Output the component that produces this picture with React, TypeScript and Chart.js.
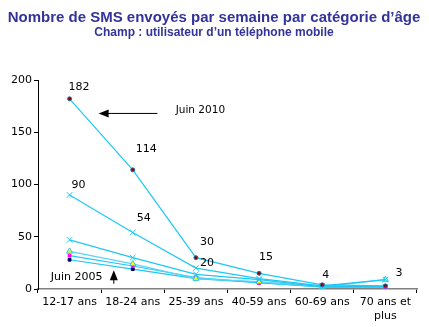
import React, { useEffect, useRef } from "react";
import { Chart, registerables } from "chart.js";

Chart.register(...registerables);

const categories: (string | string[])[] = ["12-17 ans", "18-24 ans", "25-39 ans", "40-59 ans", "60-69 ans", ["70 ans et", "plus"]];
const yTicks = [0, 50, 100, 150, 200];

const sJuin2010 = [182, 114, 30, 15, 4, 3];
const sB = [90, 54, 20, 10, 3, 9];
const sC = [47, 30, 14, 9, 2, 2];
const sD = [36, 24, 10, 7, 2, 9];
const sE = [32, 22, 11, 6, 2, 2];
const sJuin2005 = [28, 19, 10, 6, 2, 2];

const labelsJuin2010 = ["182", "114", "30", "15", "4", "3"];
const labelsB = ["90", "54", "20", "", "", ""];

const title = "Nombre de SMS envoyés par semaine par catégorie d’âge";
const subtitle = "Champ : utilisateur d’un téléphone mobile";

export default function App() {
  const ref = useRef<HTMLCanvasElement | null>(null);
  useEffect(() => {
    if (!ref.current) return;
    const labelOffsets2010 = [[-1, -12], [3, -21], [4, -16], [0, -16], [0, -10], [10, -13]];
    const labelOffsetsB = [[2, -10], [4, -14], [4, -5]];
    const overlay = {
      id: "overlay",
      afterDatasetsDraw(chart: any) {
        const ctx = chart.ctx;
        const xs = chart.scales.x;
        const ys = chart.scales.y;
        ctx.save();
        // titles
        ctx.fillStyle = "#333399";
        ctx.textAlign = "center";
        ctx.textBaseline = "middle";
        ctx.font = "bold 15px 'Liberation Sans', Arial, sans-serif";
        ctx.fillText(title, 214, 18);
        ctx.font = "bold 12px 'Liberation Sans', Arial, sans-serif";
        ctx.fillText(subtitle, 214, 33);
        // data labels
        ctx.fillStyle = "#000";
        ctx.font = "11px 'DejaVu Sans', Verdana, sans-serif";
        ctx.textAlign = "left";
        const m0 = chart.getDatasetMeta(0).data;
        labelsJuin2010.forEach((t, i) => {
          if (!t) return;
          const p = m0[i];
          const o = labelOffsets2010[i];
          ctx.fillText(t, p.x + o[0], p.y + o[1]);
        });
        const m1 = chart.getDatasetMeta(1).data;
        labelsB.forEach((t, i) => {
          if (!t) return;
          const p = m1[i];
          const o = labelOffsetsB[i];
          ctx.fillText(t, p.x + o[0], p.y + o[1]);
        });
        // Juin 2010 arrow
        const ay = ys.getPixelForValue(168);
        const ax1 = xs.getPixelForValue(0.46);
        const ax2 = xs.getPixelForValue(1.39);
        ctx.strokeStyle = "#000";
        ctx.lineWidth = 1;
        ctx.beginPath();
        ctx.moveTo(ax2, ay);
        ctx.lineTo(ax1 + 6, ay);
        ctx.stroke();
        ctx.beginPath();
        ctx.moveTo(ax1, ay);
        ctx.lineTo(ax1 + 10, ay - 4);
        ctx.lineTo(ax1 + 10, ay + 4);
        ctx.closePath();
        ctx.fill();
        ctx.font = "10.5px 'DejaVu Sans', Verdana, sans-serif";
        ctx.textAlign = "left";
        ctx.fillText("Juin 2010", xs.getPixelForValue(1.68), ys.getPixelForValue(171));
        // Juin 2005 arrow
        const bx = xs.getPixelForValue(0.70);
        const by1 = ys.getPixelForValue(5);
        const by2 = ys.getPixelForValue(18);
        ctx.beginPath();
        ctx.moveTo(bx, by1);
        ctx.lineTo(bx, by2 + 6);
        ctx.stroke();
        ctx.beginPath();
        ctx.moveTo(bx, by2);
        ctx.lineTo(bx - 4, by2 + 10);
        ctx.lineTo(bx + 4, by2 + 10);
        ctx.closePath();
        ctx.fill();
        ctx.font = "11px 'DejaVu Sans', Verdana, sans-serif";
        ctx.textAlign = "right";
        ctx.fillText("Juin 2005", xs.getPixelForValue(0.52), ys.getPixelForValue(11.5));
        ctx.restore();
      },
    };
    const mk = (data: number[], color: string, pointStyle: any, pbg: string, pbc: string, r: number) => ({
      data,
      borderColor: color,
      borderWidth: 1.2,
      pointStyle,
      pointRadius: r,
      pointBackgroundColor: pbg,
      pointBorderColor: pbc,
      pointBorderWidth: 1,
      tension: 0,
    });
    const chart = new Chart(ref.current, {
      type: "line",
      data: {
        labels: categories as any,
        datasets: [
          mk(sJuin2010, "#1EC8F5", "circle", "#990000", "#1E6EA0", 2),
          mk(sB, "#1EC8F5", "crossRot", "#1EC8F5", "#1EC8F5", 4),
          mk(sC, "#1EC8F5", "crossRot", "#1EC8F5", "#1EC8F5", 4),
          mk(sD, "#5CD2F5", "triangle", "#FFFF00", "#1EC8F5", 3.5),
          mk(sE, "#1EC8F5", "rect", "#FF00FF", "#FF00FF", 2),
          mk(sJuin2005, "#1EC8F5", "rect", "#000066", "#000066", 2),
        ],
      },
      plugins: [overlay],
      options: {
        animation: false,
        responsive: false,
        layout: { padding: { top: 80, left: 0, right: 12, bottom: 0 } },
        plugins: { legend: { display: false }, tooltip: { enabled: false } },
        scales: {
          x: {
            type: "category",
            offset: true,
            grid: { display: true, drawOnChartArea: false, drawTicks: true, tickLength: 4, color: "#000", offset: true },
            border: { display: true, color: "#808080", width: 1.5 },
            ticks: { color: "#000", padding: 3, maxRotation: 0, autoSkip: false, font: { family: "'DejaVu Sans', Verdana, sans-serif", size: 11 } },
            afterFit: (s: any) => { s.height = 38; },
          },
          y: {
            min: 0,
            max: 200,
            afterBuildTicks: (s: any) => { s.ticks = yTicks.map((v) => ({ value: v })); },
            grid: { display: true, drawOnChartArea: false, drawTicks: true, tickLength: 4, color: "#000" },
            border: { display: true, color: "#000", width: 1 },
            ticks: { color: "#000", padding: 2, font: { family: "'DejaVu Sans', Verdana, sans-serif", size: 11 } },
            afterFit: (s: any) => { s.width = 38; },
          },
        },
      },
    });
    return () => chart.destroy();
  }, []);
  return (
    <div style={{ position: "fixed", left: 0, top: 0, width: 429, height: 327, background: "#fff" }}>
      <canvas ref={ref} width={429} height={327} style={{ width: 429, height: 327 }} />
    </div>
  );
}
